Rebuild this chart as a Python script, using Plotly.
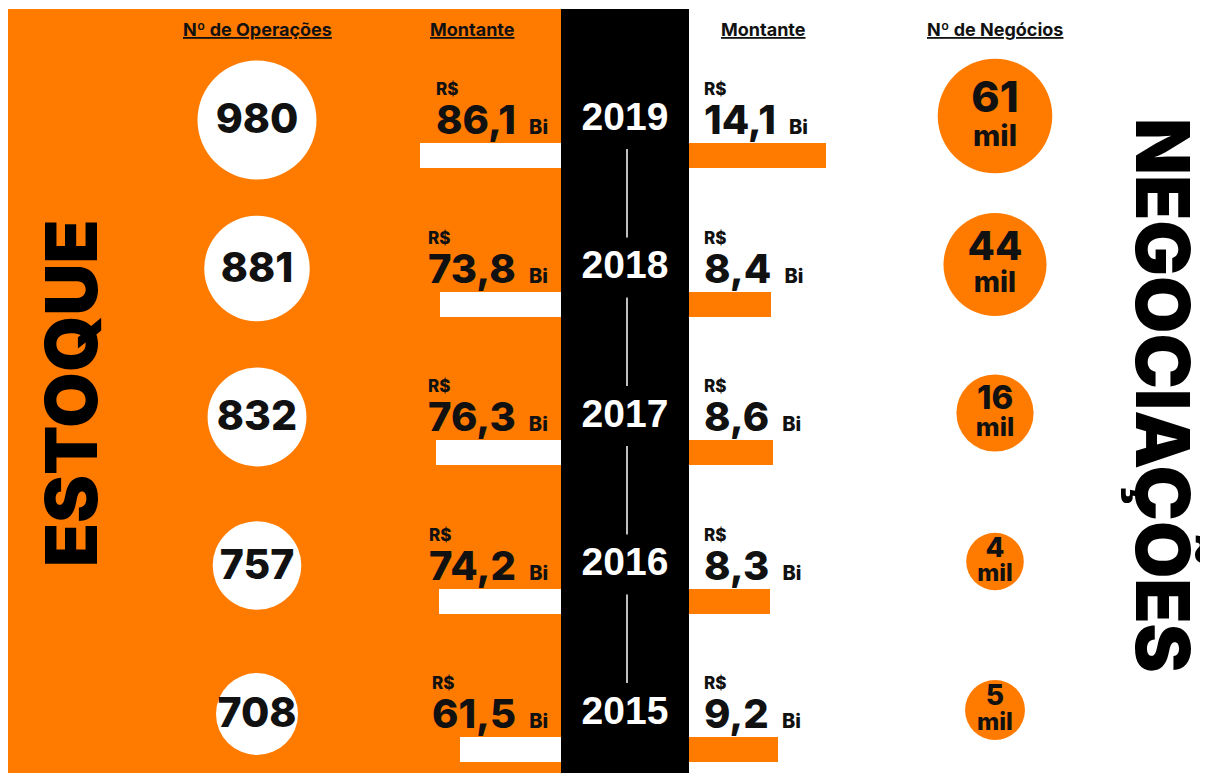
import math
import plotly.graph_objects as go

# ---------------- data ----------------
years = ["2019", "2018", "2017", "2016", "2015"]
estoque_operacoes = [980, 881, 832, 757, 708]          # Nº de Operações
estoque_montante = [86.1, 73.8, 76.3, 74.2, 61.5]      # R$ Bi
negociacoes_montante = [14.1, 8.4, 8.6, 8.3, 9.2]      # R$ Bi
negociacoes_negocios = [61, 44, 16, 4, 5]              # mil

header_labels = ["Nº de Operações", "Montante", "Montante", "Nº de Negócios"]
left_title = "ESTOQUE"
right_title = "NEGOCIAÇÕES"

# ---------------- layout constants ----------------
OFF = 8                      # page margin of the figure
W, H = 1200, 765
ORANGE = "#FF7B00"
INK = "#111111"
FONT = "Inter"

ROW0, ROWSTEP = 120, 148.5
row_y = [ROW0 + i * ROWSTEP for i in range(len(years))]

X_LEFT_CIRCLE = 257
X_RIGHT_CIRCLE = 995
X_YEAR = 625
COL_L, COL_R = 561, 689          # black column
PX_PER_BI_L = 1.638
PX_PER_BI_R = 9.72


def fmt(v):
    return f"{v:.1f}".replace(".", ",")


def px(x):
    return (x - OFF) / W


def py(y):
    return 1 - (y - OFF) / H


fig = go.Figure()

# ---- bars (through their own axes, value units) ----
bar_y = [r + 35.5 for r in row_y]
fig.add_trace(go.Bar(orientation="h", x=estoque_montante, y=bar_y, width=25,
                     marker=dict(color="white", line=dict(width=0)),
                     xaxis="x2", yaxis="y", hoverinfo="skip", showlegend=False))
fig.add_trace(go.Bar(orientation="h", x=negociacoes_montante, y=bar_y, width=25,
                     marker=dict(color=ORANGE, line=dict(width=0)),
                     xaxis="x3", yaxis="y", hoverinfo="skip", showlegend=False))

# ---- left circles (Nº de Operações) ----
left_d = [0.136 * v - 14.3 for v in estoque_operacoes]
fig.add_trace(go.Scatter(x=[X_LEFT_CIRCLE] * len(years), y=row_y, mode="markers",
                         marker=dict(size=left_d, color="white", opacity=1, line=dict(width=0)),
                         hoverinfo="skip", showlegend=False))
fig.add_trace(go.Scatter(x=[X_LEFT_CIRCLE] * len(years), y=[r + 3 for r in row_y], mode="text",
                         text=[str(v) for v in estoque_operacoes],
                         textposition="middle center",
                         textfont=dict(family=FONT, size=41, color=INK, weight=800),
                         hoverinfo="skip", showlegend=False))

# ---- right circles (Nº de Negócios) ----
right_d = [38 + 9.8 * math.sqrt(v) for v in negociacoes_negocios]
rc_y = [r - 4 for r in row_y]
fig.add_trace(go.Scatter(x=[X_RIGHT_CIRCLE] * len(years), y=rc_y, mode="markers",
                         marker=dict(size=right_d, color=ORANGE, opacity=1, line=dict(width=0)),
                         hoverinfo="skip", showlegend=False))
fig.add_trace(go.Scatter(x=[X_RIGHT_CIRCLE] * len(years),
                         y=[c - (8 + 0.06 * d) for c, d in zip(rc_y, right_d)],
                         mode="text", text=[str(v) for v in negociacoes_negocios],
                         textposition="middle center",
                         textfont=dict(family=FONT, color=INK, weight=800,
                                       size=[12 + 0.27 * d for d in right_d]),
                         hoverinfo="skip", showlegend=False))
fig.add_trace(go.Scatter(x=[X_RIGHT_CIRCLE] * len(years),
                         y=[c + (4 + 0.16 * d) for c, d in zip(rc_y, right_d)],
                         mode="text", text=["mil"] * len(years),
                         textposition="middle center",
                         textfont=dict(family=FONT, color=INK, weight=800,
                                       size=[18 + 0.1 * d for d in right_d]),
                         hoverinfo="skip", showlegend=False))

# ---- years ----
fig.add_trace(go.Scatter(x=[X_YEAR] * len(years), y=row_y, mode="text", text=years,
                         textposition="middle center",
                         textfont=dict(family="Liberation Sans", size=39, color="white", weight=700),
                         hoverinfo="skip", showlegend=False))

# ---------------- shapes ----------------
shapes = [
    dict(type="rect", xref="paper", yref="paper", x0=px(8), x1=px(COL_L), y0=py(9), y1=py(OFF + H),
         fillcolor=ORANGE, line=dict(width=0), layer="below"),
    dict(type="rect", xref="paper", yref="paper", x0=px(COL_L), x1=px(COL_R), y0=py(9), y1=py(OFF + H),
         fillcolor="black", line=dict(width=0), layer="below"),
]
for i in range(len(years) - 1):
    shapes.append(dict(type="line", xref="paper", yref="paper", x0=px(627), x1=px(627),
                       y0=py(row_y[i] + 29), y1=py(row_y[i + 1] - 31),
                       line=dict(color="white", width=1.5), layer="below"))

# ---------------- annotations ----------------
ann = []
for lbl, hx in zip(header_labels, [257, 472, 763, 995]):
    ann.append(dict(x=hx, y=29, xref="x", yref="y", text=f"<u>{lbl}</u>", showarrow=False,
                    font=dict(family=FONT, size=18, color=INK, weight=700),
                    xanchor="center", yanchor="middle"))


def money_text(v):
    return ("<span style='font-size:17px'>R$</span><br>"
            f"<span style='font-size:40px'>{fmt(v)}&nbsp;</span>"
            "<span style='font-size:20px'>&nbsp;Bi</span>")


for r, v in zip(row_y, estoque_montante):
    ann.append(dict(x=549, y=r + 25, xref="x", yref="y", text=money_text(v), showarrow=False,
                    font=dict(family=FONT, size=30, color=INK, weight=800),
                    xanchor="right", yanchor="bottom", align="left", borderpad=0))
for r, v in zip(row_y, negociacoes_montante):
    ann.append(dict(x=703, y=r + 25, xref="x", yref="y", text=money_text(v), showarrow=False,
                    font=dict(family=FONT, size=30, color=INK, weight=800),
                    xanchor="left", yanchor="bottom", align="left", borderpad=0))

ann.append(dict(x=70, y=393, xref="x", yref="y", text=left_title, showarrow=False, textangle=-90,
                font=dict(family=FONT, size=72, color="black", weight=900),
                xanchor="center", yanchor="middle"))
ann.append(dict(x=1163, y=395, xref="x", yref="y", text=right_title, showarrow=False, textangle=90,
                font=dict(family=FONT, size=74, color="black", weight=900),
                xanchor="center", yanchor="middle"))

fig.update_layout(
    width=W, height=H, margin=dict(l=0, r=0, t=0, b=0),
    paper_bgcolor="white", plot_bgcolor="rgba(0,0,0,0)",
    showlegend=False, shapes=shapes, annotations=ann,
    xaxis=dict(range=[OFF, OFF + W], domain=[0, 1], visible=False, fixedrange=True),
    yaxis=dict(range=[OFF + H, OFF], domain=[0, 1], visible=False, fixedrange=True),
    xaxis2=dict(domain=[0, px(COL_L)], range=[(COL_L - OFF) / PX_PER_BI_L, 0], anchor="y",
                visible=False, fixedrange=True),
    xaxis3=dict(domain=[px(COL_R), 1], range=[0, (OFF + W - COL_R) / PX_PER_BI_R], anchor="y",
                visible=False, fixedrange=True),
    bargap=0,
)

fig.write_html("out.html")
